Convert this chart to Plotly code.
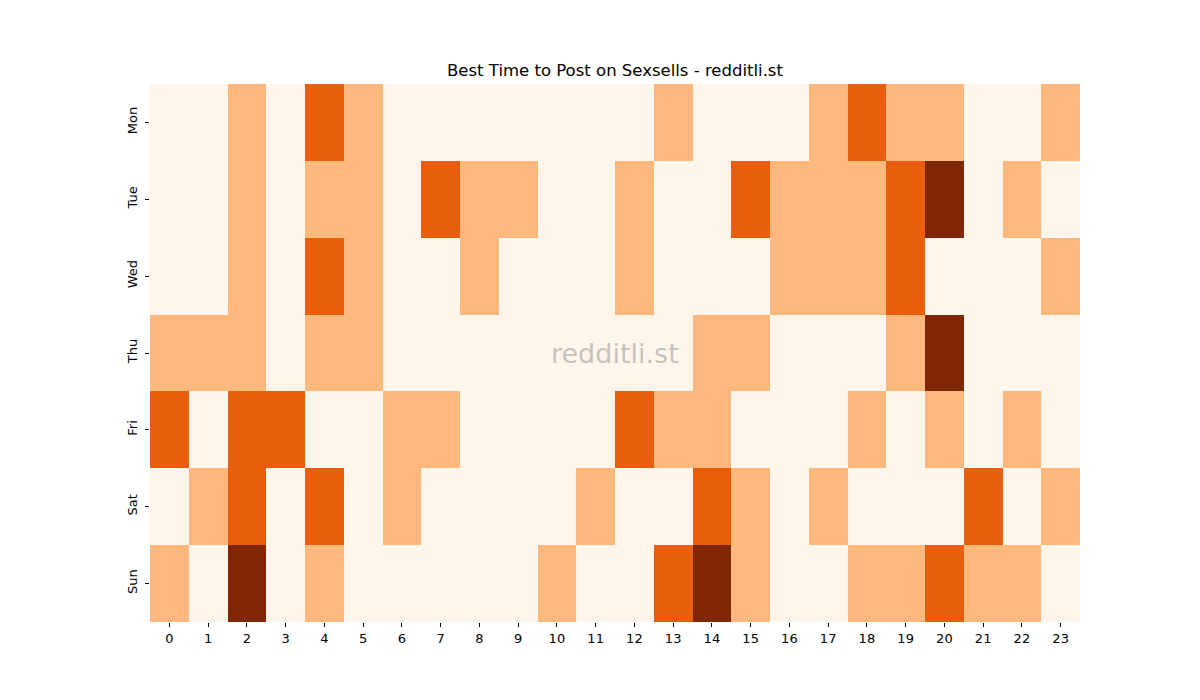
import plotly.graph_objects as go

hours = list(range(24))
days = ["Mon", "Tue", "Wed", "Thu", "Fri", "Sat", "Sun"]

mon = [0,0,1,0,2,1,0,0,0,0,0,0,0,1,0,0,0,1,2,1,1,0,0,1]
tue = [0,0,1,0,1,1,0,2,1,1,0,0,1,0,0,2,1,1,1,2,3,0,1,0]
wed = [0,0,1,0,2,1,0,0,1,0,0,0,1,0,0,0,1,1,1,2,0,0,0,1]
thu = [1,1,1,0,1,1,0,0,0,0,0,0,0,0,1,1,0,0,0,1,3,0,0,0]
fri = [2,0,2,2,0,0,1,1,0,0,0,0,2,1,1,0,0,0,1,0,1,0,1,0]
sat = [0,1,2,0,2,0,1,0,0,0,0,1,0,0,2,1,0,1,0,0,0,2,0,1]
sun = [1,0,3,0,1,0,0,0,0,0,1,0,0,2,3,1,0,0,1,1,2,1,1,0]

z = [mon, tue, wed, thu, fri, sat, sun]

colors = ["#fff5eb", "#fdb97d", "#e95e0d", "#7f2704"]
cs = []
n = len(colors)
for i, c in enumerate(colors):
    cs.append([i / n, c])
    cs.append([(i + 1) / n, c])

fig = go.Figure(go.Heatmap(
    z=z, x=hours, y=days, colorscale=cs, zmin=-0.5, zmax=3.5,
    showscale=False, hoverinfo="x+y+z",
))

fig.update_layout(
    width=1200, height=700,
    margin=dict(l=150, r=120, t=84, b=78),
    paper_bgcolor="white", plot_bgcolor="white",
    font=dict(family="DejaVu Sans", size=13, color="black"),
    title=dict(text="Best Time to Post on Sexsells - redditli.st",
               x=615/1200, xanchor="center", y=1-70/700, yanchor="middle",
               font=dict(size=16.5, color="black")),
    showlegend=False,
)
fig.update_xaxes(tickmode="array", tickvals=hours, ticktext=[str(h) for h in hours],
                 ticks="outside", ticklen=4, tickcolor="black", showgrid=False,
                 zeroline=False, showline=False, range=[-0.5, 23.5])
fig.update_yaxes(tickmode="array", tickvals=days, ticktext=days, autorange="reversed",
                 ticks="outside", ticklen=4, tickcolor="black", showgrid=False,
                 zeroline=False, showline=False, tickangle=-90, ticklabelstandoff=3)

fig.add_annotation(text="redditli.st", x=0.5, y=0.5, xref="paper", yref="paper",
                   showarrow=False, font=dict(size=27, color="rgba(128,128,128,0.45)"))

fig.write_html("out.html")
